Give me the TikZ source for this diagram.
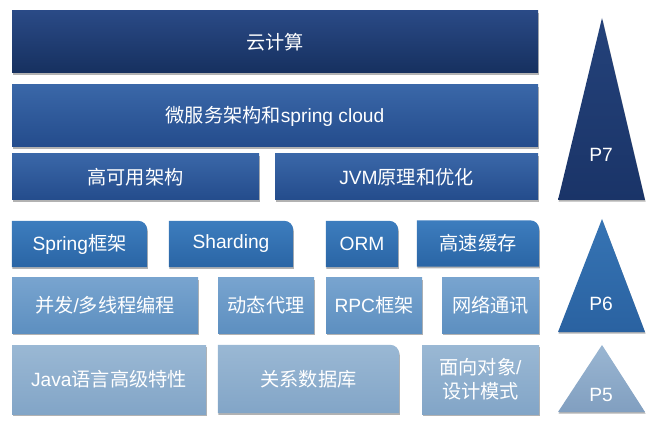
\documentclass[tikz,border=0pt]{standalone}
\usepackage{fontspec}
\setmainfont{Liberation Sans}
\newfontfamily\cjk{Noto Sans CJK SC}
\usetikzlibrary{shadows,backgrounds}
\definecolor{aT}{HTML}{2A4A86}\definecolor{aB}{HTML}{16305F}
\definecolor{bT}{HTML}{3A67A8}\definecolor{bB}{HTML}{244C8C}
\definecolor{pT}{HTML}{24427A}\definecolor{pB}{HTML}{1A3468}
\definecolor{cT}{HTML}{3D7DBE}\definecolor{cB}{HTML}{2A65A5}
\definecolor{qT}{HTML}{3674B4}\definecolor{qB}{HTML}{2A62A1}
\definecolor{dT}{HTML}{78A4CF}\definecolor{dB}{HTML}{5D8FC0}
\definecolor{eT}{HTML}{9AB8D4}\definecolor{eB}{HTML}{82A5C7}
\definecolor{rT}{HTML}{9AB6D2}\definecolor{rB}{HTML}{819FC0}
\newcommand\tabshape[3]{%
  \shade[top color=#2,bottom color=#3,shadowed]
    (#1.south west) -- (#1.north west) -- ([xshift=-9pt]#1.north east)
    arc[start angle=-90,end angle=0,radius=9] -- (#1.south east) -- cycle;}
\begin{document}
\begin{tikzpicture}[x=1pt,y=-1pt,
  every node/.style={text=white,font=\fontsize{19.2}{24}\selectfont,inner sep=0pt,align=center},
  shadowed/.style={drop shadow={shadow xshift=0.6pt,shadow yshift=-1.6pt,opacity=0.3,fill=black}},
  lvA/.style={top color=aT,bottom color=aB,shadowed},
  lvB/.style={top color=bT,bottom color=bB,shadowed},
  lvD/.style={top color=dT,bottom color=dB,shadowed},
  lvE/.style={top color=eT,bottom color=eB,shadowed}]
\useasboundingbox (0,0) rectangle (655,427);
% row 1-3
\node[lvA,minimum width=526pt,minimum height=62pt] (cloud) at (275,42) {\cjk 云计算};
\node[lvB,minimum width=526pt,minimum height=62pt] (micro) at (275,116) {{\cjk 微服务架构和}spring cloud};
\node[lvB,minimum width=247pt,minimum height=46pt] (ha) at (135.5,177) {\cjk 高可用架构};
\node[lvB,minimum width=263pt,minimum height=46pt] (jvm) at (406.5,177) {JVM{\cjk 原理和优化}};
% row 4 (tab shaped)
\node[minimum width=135pt,minimum height=46pt] (spring) at (79.5,244) {Spring{\cjk 框架}};
\node[minimum width=124pt,minimum height=46pt] (shard) at (231,244) {Sharding};
\node[minimum width=72pt,minimum height=46pt] (orm) at (362,244) {ORM};
\node[minimum width=122pt,minimum height=46pt] (cache) at (478,243.5) {\cjk 高速缓存};
% row 5
\node[lvD,minimum width=186pt,minimum height=55pt] (conc) at (105,305.5) {{\cjk 并发}/{\cjk 多线程编程}};
\node[lvD,minimum width=96pt,minimum height=55pt] (proxy) at (266,305.5) {\cjk 动态代理};
\node[lvD,minimum width=96pt,minimum height=55pt] (rpc) at (374,305.5) {RPC{\cjk 框架}};
\node[lvD,minimum width=97pt,minimum height=55pt] (net) at (490.5,305.5) {\cjk 网络通讯};
% row 6
\node[lvE,minimum width=194pt,minimum height=69pt] (java) at (109,379.5) {Java{\cjk 语言高级特性}};
\node[minimum width=181pt,minimum height=68pt] (rdb) at (308.5,379) {\cjk 关系数据库};
\node[lvE,minimum width=117pt,minimum height=69pt] (oo) at (480.5,379.5) {{\cjk 面向对象}/\\{\cjk 设计模式}};
\begin{scope}[on background layer]
  \tabshape{spring}{cT}{cB}
  \tabshape{shard}{cT}{cB}
  \tabshape{orm}{cT}{cB}
  \tabshape{cache}{cT}{cB}
  \tabshape{rdb}{eT}{eB}
  % triangles
  \shade[top color=pT,bottom color=pB,shadowed] (602,18) -- (645,200) -- (558,200) -- cycle;
  \shade[top color=qT,bottom color=qB,shadowed] (602,219) -- (645,332) -- (558,332) -- cycle;
  \shade[top color=rT,bottom color=rB,shadowed] (602,345) -- (645,412) -- (558,412) -- cycle;
\end{scope}
\node (p7) at (601,155) {P7};
\node (p6) at (601,304) {P6};
\node (p5) at (601,395) {P5};
\end{tikzpicture}
\end{document}
